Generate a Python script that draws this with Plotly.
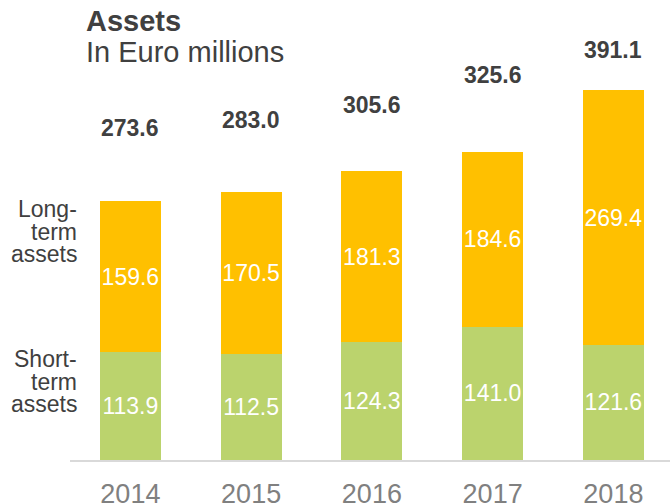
import plotly.graph_objects as go

# Asset breakdown in Euro millions
years = ["2014", "2015", "2016", "2017", "2018"]
short_term = [113.9, 112.5, 124.3, 141.0, 121.6]
long_term = [159.6, 170.5, 181.3, 184.6, 269.4]
totals = [273.6, 283.0, 305.6, 325.6, 391.1]

# vertical offset (px) of each total label above its bar
total_label_shift = [73, 72, 66, 77, 40]

W, H = 670, 504
ML, MR, MT, MB = 70, 0, 0, 44
PW, PH = W - ML - MR, H - MT - MB

FONT = "Liberation Sans, Arial, sans-serif"
DARK = "#404040"
GREEN = "#BBD36D"
YELLOW = "#FFC000"


def px_x(x):
    return (x - ML) / PW


def px_y(y):
    return (H - MB - y) / PH


fig = go.Figure()
for vals, color, name in ((short_term, GREEN, "Short-term assets"),
                          (long_term, YELLOW, "Long-term assets")):
    fig.add_bar(
        x=years, y=vals, name=name,
        marker=dict(color=color, line=dict(width=0)),
        texttemplate="%{y:.1f}", textposition="inside",
        insidetextanchor="middle", textangle=0,
        textfont=dict(color="white", size=23, family=FONT),
        constraintext="none", hoverinfo="skip",
    )

annotations = []
for i, (tot, shift) in enumerate(zip(totals, total_label_shift)):
    annotations.append(dict(
        x=i, y=tot, xref="x", yref="y", text=f"<b>{tot:.1f}</b>",
        showarrow=False, yanchor="middle", yshift=shift,
        font=dict(size=23, color=DARK, family=FONT),
    ))

# chart heading
annotations.append(dict(
    x=px_x(84), y=px_y(21), xref="paper", yref="paper", text="<b>Assets</b>",
    showarrow=False, xanchor="left", yanchor="middle",
    font=dict(size=29, color=DARK, family=FONT),
))
annotations.append(dict(
    x=px_x(84), y=px_y(52), xref="paper", yref="paper", text="In Euro millions",
    showarrow=False, xanchor="left", yanchor="middle",
    font=dict(size=29, color=DARK, family=FONT),
))

# series labels on the left
for lines, ys in ((["Long-", "term", "assets"], [209, 232, 254]),
                  (["Short-", "term", "assets"], [359, 382, 404])):
    for txt, yy in zip(lines, ys):
        annotations.append(dict(
            x=px_x(79), y=px_y(yy), xref="paper", yref="paper", text=txt,
            showarrow=False, xanchor="right", yanchor="middle",
            font=dict(size=23, color=DARK, family=FONT),
        ))

fig.update_layout(
    width=W, height=H, barmode="stack", bargap=0.495,
    margin=dict(l=ML, r=MR, t=MT, b=MB, pad=0, autoexpand=False),
    paper_bgcolor="white", plot_bgcolor="white",
    showlegend=False, annotations=annotations,
    xaxis=dict(
        type="category", automargin=False,
        range=[-0.5, PW / 120.75 - 0.5], showline=True, linecolor="#D9D9D9",
        linewidth=2, ticks="", showgrid=False, zeroline=False,
        tickfont=dict(size=27, color="#808080", family=FONT),
        ticklabelstandoff=9,
    ),
    yaxis=dict(
        range=[0, PH / 0.946], visible=False, showgrid=False, zeroline=False,
        automargin=False,
    ),
)

fig.write_html("out.html")
